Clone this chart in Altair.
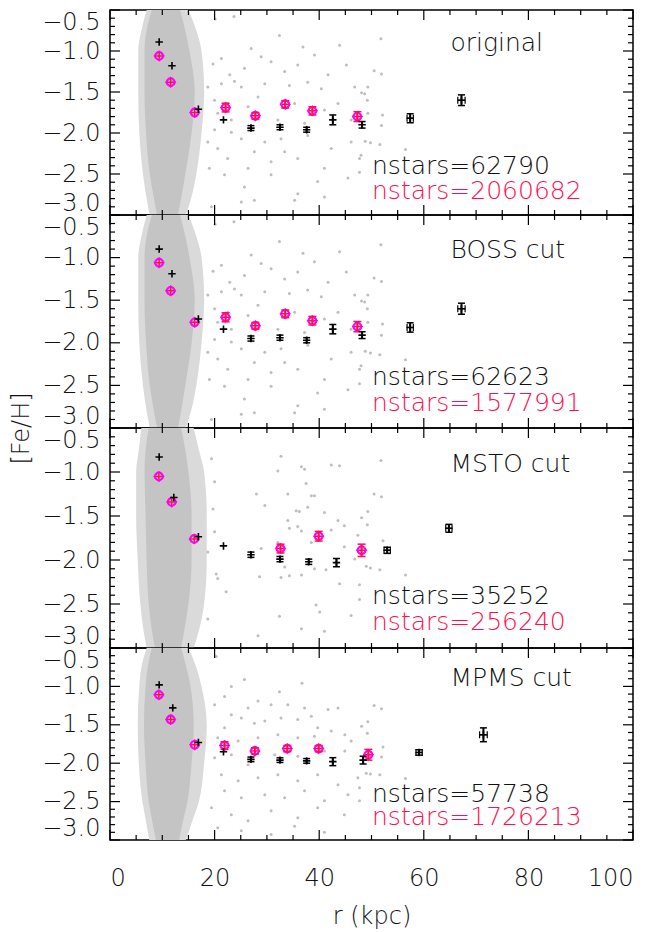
import altair as alt
import pandas as pd

FONT = "DejaVu Sans"
FW = 200
W = 523
HEIGHTS = [205, 213, 220, 192]

panel_names = ["original", "BOSS cut", "MSTO cut", "MPMS cut"]
nstars_black = ["nstars=62790", "nstars=62623", "nstars=35252", "nstars=57738"]
nstars_red = ["nstars=2060682", "nstars=1577991", "nstars=256240", "nstars=1726213"]

y_major = [-0.5, -1.0, -1.5, -2.0, -2.5, -3.0]
y_minor = [-0.6, -0.7, -0.8, -0.9, -1.1, -1.2, -1.3, -1.4, -1.6, -1.7, -1.8, -1.9,
           -2.1, -2.2, -2.3, -2.4, -2.6, -2.7, -2.8, -2.9]
x_major = [0, 20, 40, 60, 80, 100]
x_minor = [5, 10, 15, 25, 30, 35, 45, 50, 55, 65, 70, 75, 85, 90, 95]

# binned black points: r, [Fe/H], error in [Fe/H], error in r
black_r = [
    [9.4, 11.85, 16.9, 21.7, 26.95, 32.5, 37.6, 42.6, 48.2, 57.4, 67.2],
    [9.4, 11.85, 16.9, 21.7, 26.95, 32.5, 37.6, 42.6, 48.2, 57.4, 67.2],
    [9.4, 12.2, 16.9, 21.7, 26.95, 32.5, 38.0, 43.3, 53.0, 64.8],
    [9.4, 12.0, 16.9, 21.7, 26.95, 32.5, 37.6, 42.6, 48.4, 59.1, 71.4],
]
black_feh = [
    [-0.89, -1.18, -1.71, -1.84, -1.94, -1.93, -1.96, -1.84, -1.90, -1.82, -1.60],
    [-0.90, -1.19, -1.72, -1.84, -1.95, -1.94, -1.97, -1.84, -1.91, -1.82, -1.60],
    [-0.83, -1.29, -1.735, -1.84, -1.94, -1.99, -2.02, -2.03, -1.89, -1.64],
    [-0.98, -1.28, -1.73, -1.85, -1.95, -1.96, -1.97, -1.98, -1.96, -1.86, -1.63],
]
black_err = [
    [0.01, 0.01, 0.01, 0.02, 0.03, 0.03, 0.03, 0.06, 0.04, 0.055, 0.065],
    [0.01, 0.01, 0.01, 0.02, 0.03, 0.03, 0.03, 0.055, 0.04, 0.055, 0.065],
    [0.01, 0.01, 0.01, 0.02, 0.03, 0.03, 0.03, 0.047, 0.035, 0.045],
    [0.01, 0.01, 0.01, 0.02, 0.03, 0.03, 0.03, 0.052, 0.05, 0.035, 0.09],
]
black_rerr = [
    [0, 0, 0, 0, 0, 0, 0, 0, 0, 0.6, 0.7],
    [0, 0, 0, 0, 0, 0, 0, 0, 0, 0.6, 0.7],
    [0, 0, 0, 0, 0, 0, 0, 0, 0.6, 0.6],
    [0, 0, 0, 0, 0, 0, 0, 0, 0, 0.6, 0.73],
]

# magenta points
mag_r = [
    [9.4, 11.6, 16.2, 22.1, 27.8, 33.5, 38.7, 47.3],
    [9.4, 11.6, 16.2, 22.1, 27.8, 33.5, 38.7, 47.3],
    [9.35, 11.8, 16.1, 32.6, 39.9, 48.1],
    [9.35, 11.6, 16.2, 21.9, 27.7, 33.9, 39.9, 49.4],
]
mag_feh = [
    [-1.06, -1.38, -1.75, -1.69, -1.79, -1.65, -1.73, -1.80],
    [-1.06, -1.39, -1.76, -1.70, -1.80, -1.66, -1.74, -1.81],
    [-1.05, -1.34, -1.76, -1.87, -1.73, -1.89],
    [-1.11, -1.43, -1.76, -1.77, -1.84, -1.81, -1.81, -1.89],
]
mag_err = [
    [0.01, 0.01, 0.01, 0.053, 0.04, 0.045, 0.05, 0.06],
    [0.01, 0.01, 0.01, 0.053, 0.04, 0.045, 0.05, 0.06],
    [0.01, 0.01, 0.01, 0.05, 0.055, 0.07],
    [0.01, 0.01, 0.01, 0.05, 0.04, 0.04, 0.04, 0.07],
]

# dense inner cloud outline (r extent at several [Fe/H] levels)
cloud_levels = [-0.5, -0.75, -1.0, -1.5, -2.0, -2.5, -2.8, -3.0]
core_lo = [
    [8.0, 7.0, 6.6, 6.6, 6.9, 7.6, 8.4, 9.0],
    [8.0, 7.0, 6.6, 6.6, 6.9, 7.6, 8.4, 9.0],
    [7.4, 6.8, 6.6, 6.8, 7.0, 7.4, 8.0, 8.6],
    [8.0, 7.2, 6.8, 6.5, 6.8, 7.4, 8.2, 8.8],
]
core_hi = [
    [13.4, 14.4, 15.2, 16.2, 15.6, 14.4, 13.6, 13.0],
    [13.4, 14.4, 15.2, 16.2, 15.6, 14.4, 13.6, 13.0],
    [13.6, 14.4, 15.0, 15.6, 15.6, 15.0, 14.2, 13.6],
    [13.6, 14.6, 15.4, 16.0, 15.6, 14.8, 13.8, 13.2],
]
halo_lo = [
    [7.0, 6.0, 5.4, 5.4, 5.6, 6.3, 7.0, 7.6],
    [7.0, 6.0, 5.4, 5.4, 5.6, 6.3, 7.0, 7.6],
    [6.0, 5.5, 5.0, 5.0, 5.3, 5.8, 6.4, 7.0],
    [7.0, 6.0, 5.6, 5.3, 5.5, 6.2, 7.0, 7.5],
]
halo_hi = [
    [15.0, 16.5, 17.5, 18.0, 17.5, 16.5, 15.5, 14.5],
    [15.0, 16.5, 17.5, 18.0, 17.5, 16.5, 15.5, 14.5],
    [16.0, 17.0, 18.0, 18.5, 18.5, 18.0, 17.0, 16.0],
    [15.0, 16.5, 17.5, 18.5, 18.0, 17.0, 15.5, 14.5],
]

# sparse outer stars (r, [Fe/H])
sparse_a = [
    (20.1, -0.61), (23.7, -0.58), (32.4, -0.81), (36.9, -0.95), (43.9, -0.93),
    (27.0, -0.97), (28.9, -1.07), (30.8, -1.13), (41.7, -1.29), (45.2, -1.17),
    (21.3, -1.09), (19.7, -1.16), (22.9, -1.29), (23.8, -1.37), (21.3, -1.40),
    (25.1, -1.44), (29.6, -1.40), (34.3, -1.42), (37.8, -1.38), (40.4, -1.46),
    (43.6, -1.64), (48.7, -1.52), (20.0, -1.60), (22.5, -1.64), (26.4, -1.68),
    (35.3, -1.64), (41.0, -1.72), (20.0, -1.96), (23.2, -1.99), (25.1, -2.07),
    (29.6, -2.11), (32.7, -2.07), (37.8, -2.03), (42.3, -2.19), (46.1, -2.11),
    (20.6, -2.19), (22.5, -2.31), (26.4, -2.43), (30.8, -2.35), (35.9, -2.31),
    (41.0, -2.43), (21.9, -2.51), (25.7, -2.66), (30.8, -2.51), (35.9, -2.74),
    (39.7, -2.59), (45.5, -2.55), (25.1, -2.84), (35.3, -2.82), (41.0, -2.78),
    (19.4, -2.90), (27.6, -2.82), (32.1, -1.84), (23.2, -1.84), (20.6, -1.76),
    (37.2, -1.88), (46.1, -1.84), (49.3, -1.76), (18.7, -1.44), (18.7, -2.11),
    (19.0, -2.43), (28.3, -1.56), (33.4, -1.25), (35.9, -1.17), (25.7, -1.21),
    (39.1, -1.05), (46.8, -1.44), (48.0, -2.27), (27.6, -2.23), (33.4, -2.23),
    (51.8, -0.85), (50.5, -1.24), (51.9, -1.28), (49.3, -1.44), (48.1, -1.51),
    (49.2, -1.60), (52.1, -1.78), (51.9, -1.91), (48.8, -2.10), (49.8, -2.12),
    (51.6, -2.14), (56.5, -2.20), (47.7, -2.31), (47.7, -2.48),
]
sparse_msto = [
    (32.7, -0.82), (32.1, -0.99), (36.6, -0.94), (37.2, -0.97), (37.5, -1.13),
    (42.3, -0.92), (43.9, -0.93), (28.0, -1.25), (34.0, -1.25), (38.5, -1.27),
    (39.1, -1.27), (29.6, -1.38), (35.6, -1.44), (36.2, -1.45), (37.8, -1.40),
    (41.0, -1.46), (43.6, -1.55), (44.8, -1.61), (28.9, -1.87), (34.0, -1.55),
    (34.3, -1.64), (35.9, -1.62), (36.6, -1.67), (38.5, -1.80), (42.3, -1.66),
    (44.8, -1.85), (32.1, -1.80), (33.4, -2.08), (28.6, -2.19), (32.7, -2.20),
    (34.3, -2.18), (36.6, -2.17), (39.1, -2.10), (41.3, -2.11), (43.9, -2.27),
    (46.8, -1.99), (20.3, -2.16), (20.6, -2.21), (39.4, -2.51), (40.1, -2.59),
    (32.4, -2.64), (36.6, -2.78), (41.0, -2.81), (46.1, -2.63), (28.3, -2.86),
    (20.0, -1.68), (18.7, -1.91), (19.7, -1.42), (20.0, -1.11), (19.4, -0.85),
    (22.2, -2.36), (18.7, -2.67),
    (51.8, -0.87), (50.5, -1.25), (51.9, -1.28), (49.3, -1.45), (48.1, -1.52),
    (49.2, -1.60), (47.4, -1.72), (52.2, -1.78), (49.0, -2.07), (49.8, -2.09),
    (51.6, -2.11), (56.5, -2.17), (47.7, -2.28), (47.7, -2.45),
]
sparse_mpms = [
    (20.3, -0.61), (25.7, -0.91), (36.7, -0.96), (32.4, -1.07), (23.2, -1.00),
    (21.9, -1.13), (20.0, -1.24), (28.3, -1.19), (30.8, -1.24), (34.0, -1.24),
    (37.2, -1.28), (41.7, -1.30), (43.6, -1.28), (26.4, -1.28), (23.2, -1.37),
    (25.1, -1.41), (27.6, -1.48), (29.6, -1.45), (32.7, -1.41), (35.9, -1.43),
    (38.5, -1.39), (39.7, -1.54), (42.3, -1.58), (44.9, -1.63), (21.9, -1.54),
    (20.6, -1.67), (24.5, -1.71), (28.3, -1.67), (32.1, -1.63), (35.9, -1.67),
    (39.1, -1.65), (46.1, -1.71), (20.0, -1.93), (23.2, -1.89), (26.4, -2.02),
    (31.5, -1.89), (35.9, -1.91), (41.0, -1.84), (44.9, -1.84), (21.3, -2.15),
    (24.5, -2.23), (28.3, -2.19), (32.1, -2.15), (35.9, -2.23), (39.7, -2.15),
    (43.6, -2.28), (47.4, -2.19), (21.9, -2.36), (25.1, -2.45), (29.6, -2.41),
    (33.4, -2.45), (37.2, -2.36), (41.0, -2.49), (45.5, -2.41), (23.2, -2.67),
    (26.4, -2.75), (30.8, -2.62), (35.9, -2.71), (39.7, -2.58), (44.8, -2.67),
    (25.1, -2.88), (30.8, -2.93), (35.3, -2.82), (41.0, -2.90), (19.4, -2.58),
    (20.6, -2.84),
    (50.5, -1.25), (51.9, -1.29), (49.3, -1.46), (48.1, -1.52), (49.2, -1.61),
    (52.2, -1.79), (51.9, -1.92), (49.0, -2.13), (49.8, -2.14), (51.6, -2.15),
    (56.5, -2.20), (47.7, -2.32), (47.7, -2.49),
]
sparse_all = [sparse_a, sparse_a, sparse_msto, sparse_mpms]

GRAY_CORE = "#c4c4c4"
GRAY_HALO = "#dadada"
GRAY_DOT = "#bebebe"
MAGENTA = "#ff00ff"
RED = "#ff0f50"
INK = "#111111"


def panel(i):
    H = HEIGHTS[i]
    xs = alt.Scale(domain=[0, 100], nice=False, zero=False)
    ys = alt.Scale(domain=[-3.0, -0.5], nice=False, zero=False)
    last = i == 3

    yargs = dict(values=y_major, format=".1f", ticks=False, domain=False, grid=False,
                 labelFont=FONT, labelFontSize=24, labelFontWeight=FW, labelPadding=10,
                 labelFlush=True, labelColor=INK)
    if i == 1:
        yax = alt.Axis(title="[Fe/H]", titleFont=FONT, titleFontSize=24,
                       titleFontWeight=FW, titleColor=INK,
                       titleAngle=270, titleX=-89, titleY=H, titleAlign="center",
                       titleBaseline="middle", **yargs)
    else:
        yax = alt.Axis(title=None, **yargs)
    if last:
        xax = alt.Axis(values=x_major, format="d", ticks=False, domain=False, grid=False,
                       labelFont=FONT, labelFontSize=24, labelFontWeight=FW,
                       labelPadding=26, labelColor=INK, title="r (kpc)", titleFont=FONT,
                       titleFontSize=24, titleFontWeight=FW, titlePadding=14,
                       titleColor=INK)
    else:
        xax = None

    # every layer gets the same axis definitions so that they merge cleanly
    def X(f):
        return alt.X(f, scale=xs, axis=xax)

    def Y(f):
        return alt.Y(f, scale=ys, axis=yax)

    cloud = pd.DataFrame({
        "feh": cloud_levels,
        "clo": core_lo[i], "chi": core_hi[i],
        "hlo": halo_lo[i], "hhi": halo_hi[i],
    })
    halo = alt.Chart(cloud).mark_area(orient="horizontal", color=GRAY_HALO,
                                      interpolate="monotone", clip=True).encode(
        y=Y("feh:Q"), x=X("hlo:Q"), x2="hhi:Q")
    core = alt.Chart(cloud).mark_area(orient="horizontal", color=GRAY_CORE,
                                      interpolate="monotone", clip=True).encode(
        y=Y("feh:Q"), x=X("clo:Q"), x2="chi:Q")
    sp = pd.DataFrame(sparse_all[i], columns=["r", "feh"])
    dots = alt.Chart(sp).mark_circle(size=9, color=GRAY_DOT, opacity=1).encode(
        x=X("r:Q"), y=Y("feh:Q"))

    bl = pd.DataFrame({"r": black_r[i], "feh": black_feh[i],
                       "err": black_err[i], "rerr": black_rerr[i]})
    bl["lo"] = bl["feh"] - bl["err"]
    bl["hi"] = bl["feh"] + bl["err"]
    bl["rlo"] = bl["r"] - bl["rerr"]
    bl["rhi"] = bl["r"] + bl["rerr"]
    ble = bl[bl["err"] >= 0.03]
    blx = bl[bl["rerr"] > 0]

    mg = pd.DataFrame({"r": mag_r[i], "feh": mag_feh[i], "err": mag_err[i]})
    mg["lo"] = mg["feh"] - mg["err"]
    mg["hi"] = mg["feh"] + mg["err"]
    mge = mg[mg["err"] >= 0.03]

    cross_path = "M-1,0L1,0M0,-1L0,1"
    layers = [halo, core, dots]

    # magenta markers
    layers.append(alt.Chart(mg).mark_point(shape="diamond", size=90, filled=False,
                                           color=MAGENTA, strokeWidth=1.4, opacity=1).encode(
        x=X("r:Q"), y=Y("feh:Q")))
    layers.append(alt.Chart(mg).mark_point(shape="circle", size=70, filled=False,
                                           color=MAGENTA, strokeWidth=1.4, opacity=1).encode(
        x=X("r:Q"), y=Y("feh:Q")))
    layers.append(alt.Chart(mg).mark_point(shape=cross_path, size=60, filled=False,
                                           color=RED, strokeWidth=1.5, opacity=1).encode(
        x=X("r:Q"), y=Y("feh:Q")))
    layers.append(alt.Chart(mge).mark_rule(color=RED, strokeWidth=2).encode(
        x=X("r:Q"), y=Y("lo:Q"), y2="hi:Q"))
    for c in ["lo", "hi"]:
        layers.append(alt.Chart(mge).mark_tick(orient="horizontal", size=8, thickness=1.5,
                                               color=RED, opacity=1).encode(
            x=X("r:Q"), y=Y(c + ":Q")))

    # black markers
    layers.append(alt.Chart(bl).mark_point(shape=cross_path, size=55, filled=False,
                                           color="black", strokeWidth=1.6, opacity=1).encode(
        x=X("r:Q"), y=Y("feh:Q")))
    layers.append(alt.Chart(ble).mark_rule(color="black", strokeWidth=2).encode(
        x=X("r:Q"), y=Y("lo:Q"), y2="hi:Q"))
    for c in ["lo", "hi"]:
        layers.append(alt.Chart(ble).mark_tick(orient="horizontal", size=7, thickness=1.5,
                                               color="black", opacity=1).encode(
            x=X("r:Q"), y=Y(c + ":Q")))
    layers.append(alt.Chart(blx).mark_rule(color="black", strokeWidth=1.2).encode(
        x=X("rlo:Q"), x2="rhi:Q", y=Y("feh:Q")))
    for c in ["rlo", "rhi"]:
        layers.append(alt.Chart(blx).mark_tick(orient="vertical", size=7, thickness=1.2,
                                               color="black", opacity=1).encode(
            x=X(c + ":Q"), y=Y("feh:Q")))

    # inward ticks on all four sides
    ymaj = pd.DataFrame({"v": y_major})
    ymin = pd.DataFrame({"v": y_minor})
    xmaj = pd.DataFrame({"v": x_major})
    xmin = pd.DataFrame({"v": x_minor})
    for df, L in [(ymaj, 10), (ymin, 5)]:
        layers.append(alt.Chart(df).mark_rule(color="black", strokeWidth=1.2).encode(
            y=Y("v:Q"), x=alt.value(0), x2=alt.value(L)))
        layers.append(alt.Chart(df).mark_rule(color="black", strokeWidth=1.2).encode(
            y=Y("v:Q"), x=alt.value(W), x2=alt.value(W - L)))
    for df, L in [(xmaj, 10), (xmin, 5)]:
        layers.append(alt.Chart(df).mark_rule(color="black", strokeWidth=1.2).encode(
            x=X("v:Q"), y=alt.value(0), y2=alt.value(L)))
        layers.append(alt.Chart(df).mark_rule(color="black", strokeWidth=1.2).encode(
            x=X("v:Q"), y=alt.value(H), y2=alt.value(H - L)))

    # annotations
    txt = pd.DataFrame({
        "r": [65.1, 50.1, 50.1],
        "feh": [-1.0, -2.5, -2.8],
        "label": [panel_names[i], nstars_black[i], nstars_red[i]],
        "col": [INK, INK, RED],
    })
    layers.append(alt.Chart(txt).mark_text(align="left", baseline="alphabetic", font=FONT,
                                           fontSize=25, fontWeight=FW).encode(
        x=X("r:Q"), y=Y("feh:Q"),
        text="label:N",
        color=alt.Color("col:N", scale=None)))

    return alt.layer(*layers).properties(width=W, height=H)


chart = alt.vconcat(*[panel(i) for i in range(4)], spacing=0, bounds="flush").properties(
    padding={"left": 0, "top": 0, "right": 5, "bottom": 0}, background="white"
).configure_view(stroke="black", strokeWidth=1.5)

chart.save("out.html", embed_options={"renderer": "svg", "actions": False})
